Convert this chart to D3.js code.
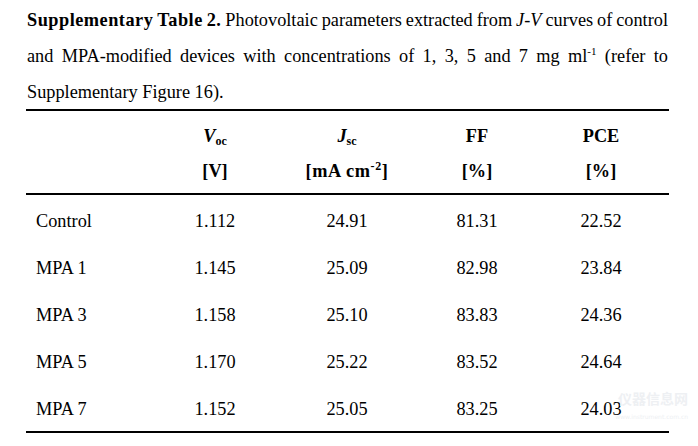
<!DOCTYPE html>
<html>
<head>
<meta charset="utf-8">
<script src="https://cdn.jsdelivr.net/npm/d3@7"></script>
</head>
<body style="margin:0">
<div id="table2"></div>
<script>
// table content
let devices = ["Control", "MPA 1", "MPA 3", "MPA 5", "MPA 7"];
let voc = ["1.112", "1.145", "1.158", "1.170", "1.152"];
let jsc = ["24.91", "25.09", "25.10", "25.22", "25.05"];
let ff = ["81.31", "82.98", "83.83", "83.52", "83.25"];
let pce = ["22.52", "23.84", "24.36", "24.64", "24.03"];
let columns = ["Voc", "Jsc", "FF", "PCE"];
let units = ["[V]", "[mA cm-2]", "[%]", "[%]"];

let width = 698, height = 446;
let left = 26, right = 669;
let serif = "Liberation Serif";
let fs = 18.3;

let svg = d3.select("#table2")
	.append("svg")
	.attr("width", width)
	.attr("height", height);

svg.append("rect").attr("width", width).attr("height", height).attr("fill", "#fff");

// every text gets the serif face, also as an important inline style
let serifText = function(sel, size) {
	return sel.attr("font-family", serif)
		.style("font-family", serif, "important")
		.attr("font-size", size)
		.attr("fill", "#000");
};

// caption, words placed one by one so lines can be justified
let caption = [
	[[["Supplementary", "b"]], [["Table", "b"]], [["2.", "b"]], [["Photovoltaic"]], [["parameters"]], [["extracted"]], [["from"]],
		[["J", "i"], ["-"], ["V", "i"]], [["curves"]], [["of"]], [["control"]]],
	[[["and"]], [["MPA-modified"]], [["devices"]], [["with"]], [["concentrations"]], [["of"]], [["1,"]], [["3,"]], [["5"]],
		[["and"]], [["7"]], [["mg"]], [["ml"], ["-1", "sup"]], [["(refer"]], [["to"]]],
	[[["Supplementary"]], [["Figure"]], [["16)."]]]
];
let captionY = [26, 62, 98];

caption.forEach(function(line, li) {
	let g = svg.append("g");
	let words = line.map(function(word) {
		let t = serifText(g.append("text").attr("y", captionY[li]), fs);
		word.forEach(function(seg) {
			let s = t.append("tspan").text(seg[0]);
			if (seg[1] === "b") s.attr("font-weight", "bold").attr("letter-spacing", 0.5);
			if (seg[1] === "i") s.attr("font-style", "italic");
			if (seg[1] === "sup") s.attr("font-size", 11).attr("dy", -7);
		});
		return t;
	});
	let widths = words.map(t => t.node().getComputedTextLength());
	let total = d3.sum(widths);
	let gap = li < 2 ? (right - 2 - left - total) / (words.length - 1) : 4.6;
	let x = left + 1;
	words.forEach(function(t, i) {
		t.attr("x", x);
		x += widths[i] + gap;
	});
});

// scales for the table
let x = d3.scaleOrdinal().domain(columns).range([215, 347, 477, 601]);
let y = d3.scalePoint().domain(devices).range([227, 415]);

// rules
let rules = [110, 194, 432];
svg.selectAll("line")
	.data(rules)
	.enter().append("line")
	.attr("x1", left)
	.attr("x2", right)
	.attr("y1", d => d)
	.attr("y2", d => d)
	.attr("stroke", "#000")
	.attr("stroke-width", 2);

// header
let headG = svg.append("g");
columns.forEach(function(d) {
	let t = serifText(headG.append("text"), fs)
		.attr("x", x(d))
		.attr("y", 142)
		.attr("text-anchor", "middle")
		.attr("font-weight", "bold");
	if (d === "Voc" || d === "Jsc") {
		t.append("tspan").attr("font-style", "italic").text(d[0]);
		t.append("tspan").attr("font-size", 12).attr("dy", 3).text(d.slice(1));
	} else {
		t.text(d);
	}
});

let unitG = svg.append("g");
units.forEach(function(d, i) {
	let t = serifText(unitG.append("text"), fs)
		.attr("x", x(columns[i]))
		.attr("y", 177)
		.attr("text-anchor", "middle")
		.attr("font-weight", "bold");
	if (d === "[mA cm-2]") {
		t.attr("letter-spacing", 0.6);
		t.append("tspan").text("[mA cm");
		t.append("tspan").attr("font-size", 12).attr("dy", -7).text("-2");
		t.append("tspan").attr("dy", 7).text("]");
	} else {
		t.text(d);
	}
});

// body
let bodyG = svg.append("g");
devices.forEach(function(d) {
	serifText(bodyG.append("text"), fs)
		.attr("x", 36)
		.attr("y", y(d))
		.text(d);
});

let values = [voc, jsc, ff, pce];
values.forEach(function(col, ci) {
	col.forEach(function(v, i) {
		serifText(bodyG.append("text"), fs)
			.attr("x", x(columns[ci]))
			.attr("y", y(devices[i]))
			.attr("text-anchor", "middle")
			.text(v);
	});
});

// faint watermark, kept clear of the last row
svg.append("text")
	.attr("x", 688)
	.attr("y", 404)
	.attr("text-anchor", "end")
	.attr("font-family", "Noto Sans CJK SC")
	.attr("font-size", 14)
	.attr("font-weight", "bold")
	.attr("fill", "#eef0f3")
	.text("仪器信息网");
svg.append("text")
	.attr("x", 688)
	.attr("y", 419)
	.attr("text-anchor", "end")
	.attr("font-family", "DejaVu Sans")
	.attr("font-size", 6)
	.attr("fill", "#eef0f3")
	.text("www.instrument.com.cn");
</script>
</body>
</html>
